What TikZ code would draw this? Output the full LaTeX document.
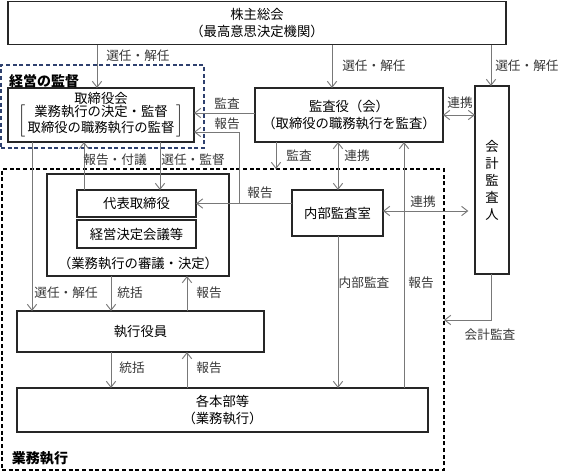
\documentclass[tikz,border=0pt]{standalone}
\usepackage{fontspec}
\setmainfont{Noto Sans CJK JP}
\usepackage{tikz}
\usetikzlibrary{arrows.meta}
\definecolor{navy}{RGB}{46,64,110}
\definecolor{linegray}{RGB}{120,120,120}
\definecolor{labgray}{RGB}{55,55,55}

\begin{document}
\begin{tikzpicture}[x=0.75pt,y=0.75pt,yscale=-1,xscale=1,
  box/.style={draw=black!85,line width=0.9pt,inner sep=0pt,outer sep=0pt,align=center,font=\fontsize{10}{12.5}\selectfont},
  sz/.style 2 args={minimum width=#1*0.75pt,minimum height=#2*0.75pt},
  area/.style={line width=0.9pt,dash pattern=on 3pt off 2pt,inner sep=0pt,outer sep=0pt},
  lab/.style={inner sep=0pt,font=\fontsize{9.5}{11}\selectfont,text=labgray},
  conn/.style={draw=linegray,line width=0.7pt},
  arr/.style={conn,-{Straight Barb[length=4.5pt,width=7pt]}},
  darr/.style={conn,{Straight Barb[length=4.5pt,width=7pt]}-{Straight Barb[length=4.5pt,width=7pt]}}]
\useasboundingbox (0,0) rectangle (573,472);

%Dashed areas
\node[area,draw=black,sz={442}{301}] (gyomu) at (223,319.5) {};
\node[area,draw=navy,sz={203}{83}] (keiei) at (102.5,106.5) {};

%Boxes
\node[box,sz={498}{43}] (kabu) at (257,23) {株主総会\\（最高意思決定機関）};
\node[box,sz={186}{54}] (torikai) at (101,115) {取締役会\\[-1pt]$\left[\mbox{\begin{tabular}{@{\,}c@{\,}}業務執行の決定・監督\\取締役の職務執行の監督\end{tabular}}\right]$};
\node[box,sz={188}{54}] (kansa) at (349,115) {監査役（会）\\（取締役の職務執行を監査）};
\node[box,sz={34}{188},font=\fontsize{10}{12.75}\selectfont] (kaikei) at (492,180) {会\\計\\監\\査\\人};
\node[box,sz={182}{102}] (shingi) at (138,225) {};
\node[box,sz={119}{27}] (daihyo) at (136.5,203.5) {代表取締役};
\node[box,sz={119}{28}] (kaigi) at (136.5,234) {経営決定会議等};
\node[inner sep=0pt,font=\fontsize{10}{12.5}\selectfont] (shingitxt) at (138,263) {（業務執行の審議・決定）};
\node[box,sz={91}{46}] (naibu) at (337.5,213) {内部監査室};
\node[box,sz={247}{41}] (shikko) at (140.5,331.5) {執行役員};
\node[box,sz={411}{44}] (kakubu) at (222.5,410) {各本部等\\（業務執行）};

% Area titles
\node[inner sep=0pt,font=\fontsize{10.5}{12}\bfseries] (keieilab) at (44,81) {経営の監督};
\node[inner sep=0pt,font=\fontsize{10.5}{12}\bfseries] (gyomulab) at (40,458) {業務執行};

%Straight Lines
\draw[arr] (97,0 |- kabu.south) -- (97,0 |- torikai.north);
\draw[arr] (332,0 |- kabu.south) -- (332,0 |- kansa.north);
\draw[arr] (491,0 |- kabu.south) -- (491,0 |- kaikei.north);
\draw[arr] (kansa.west |- 0,113) -- (torikai.east |- 0,113);
\draw[arr] (naibu.west |- daihyo.east) -- (daihyo.east);
\draw[arr] (239,0 |- daihyo.east) |- (torikai.east |- 0,132);
\draw[arr] (276,0 |- kansa.south) -- (276,0 |- gyomu.north);
\draw[darr] (338,0 |- kansa.south) -- (338,0 |- naibu.north);
\draw[arr] (404,0 |- kakubu.north) -- (404,0 |- kansa.south);
\draw[darr] (kansa.east |- 0,115) -- (kaikei.west |- 0,115);
\draw[darr,shorten >=5pt] (naibu.east |- 0,211) -- (kaikei.west |- 0,211);
\draw[arr] (338,0 |- naibu.south) -- (338,0 |- kakubu.north);
\draw[arr] (491,0 |- kaikei.south) |- (gyomu.east |- 0,320);
\draw[arr] (84,0 |- daihyo.north) -- (84,0 |- torikai.south);
\draw[arr] (160,0 |- torikai.south) -- (160,0 |- daihyo.north);
\draw[arr] (32,0 |- torikai.south) -- (32,0 |- shikko.north);
\draw[arr] (111,0 |- shingi.south) -- (111,0 |- shikko.north);
\draw[arr] (187,0 |- shikko.north) -- (187,0 |- shingi.south);
\draw[arr] (111,0 |- shikko.south) -- (111,0 |- kakubu.north);
\draw[arr] (187,0 |- kakubu.north) -- (187,0 |- shikko.south);

% Text Node
\node[lab,anchor=west] (sen1) at (106,56) {選任・解任};
\node[lab,anchor=west] (sen2) at (342,66) {選任・解任};
\node[lab,anchor=west] (sen3) at (495,66) {選任・解任};
\node[lab] (kansa1) at (227,104) {監査};
\node[lab] (hokoku1) at (227,124) {報告};
\node[lab] (hokoku2) at (260,193) {報告};
\node[lab] (kansa2) at (299,156) {監査};
\node[lab] (renkei1) at (357,156) {連携};
\node[lab] (renkei2) at (460,103) {連携};
\node[lab] (renkei3) at (423,202) {連携};
\node[lab] (naibukansa) at (364,283) {内部監査};
\node[lab] (hokoku3) at (421,283) {報告};
\node[lab] (kaikeikansa) at (490,335) {会計監査};
\node[lab] (fugi) at (115,160) {報告・付議};
\node[lab] (kantoku) at (193,160) {選任・監督};
\node[lab] (sen4) at (66,293) {選任・解任};
\node[lab] (tokatsu1) at (130,293) {統括};
\node[lab] (hokoku4) at (209,293) {報告};
\node[lab] (tokatsu2) at (132,368) {統括};
\node[lab] (hokoku5) at (209,368) {報告};

\end{tikzpicture}
\end{document}
